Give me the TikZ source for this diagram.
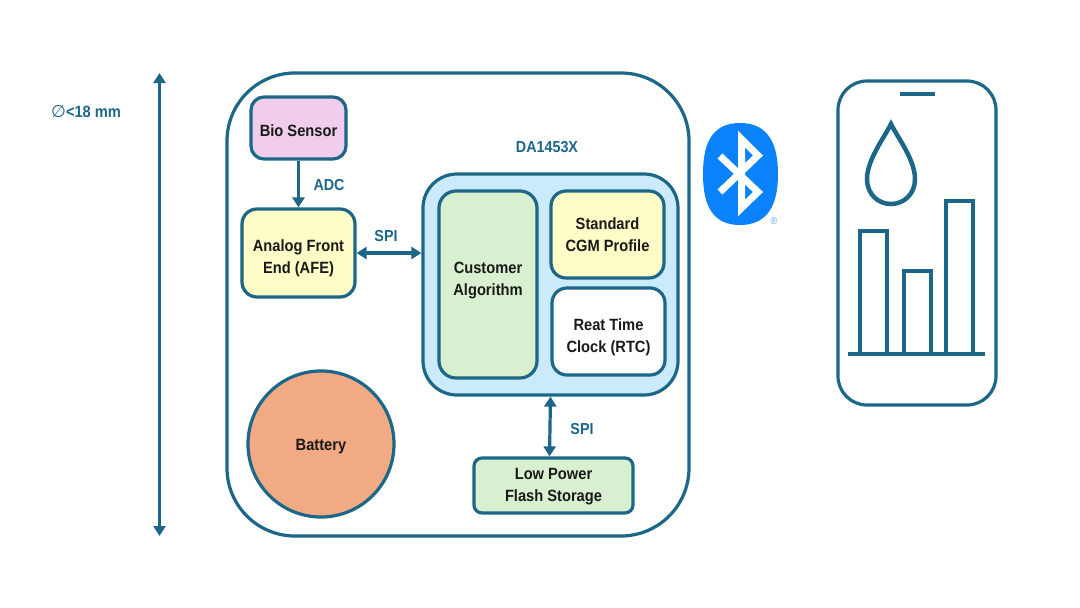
\documentclass[tikz,border=0pt]{standalone}
\usepackage{fontspec}
\setmainfont[FakeStretch=0.9]{Liberation Sans}
\newfontfamily\symfont{DejaVu Sans}
\usetikzlibrary{arrows.meta}
\definecolor{teal1}{HTML}{1C6688}
\definecolor{btblue}{HTML}{0A82FB}
\definecolor{BioPink}{HTML}{F1CDEC}
\definecolor{AfeYellow}{HTML}{FEFDC8}
\definecolor{DaBlue}{HTML}{CBEBFA}
\definecolor{AlgGreen}{HTML}{D9F0D0}
\definecolor{BatOrange}{HTML}{F2AA84}
\tikzset{
  x=1pt,y=-1pt,
  boxed/.style={draw=teal1,line width=3.2pt,rounded corners=#1,inner sep=0pt,align=center,font=\fontsize{16.3}{22}\selectfont\bfseries,text=black!90},
  boxed/.default=13pt,
  lbl/.style={text=teal1,font=\fontsize{15.9}{18}\selectfont\bfseries,inner sep=0pt},
  conn/.style={draw=teal1,line width=3.2pt,-{Triangle[length=10pt,width=12pt]}},
  conn2/.style={draw=teal1,line width=3.2pt,{Triangle[length=10pt,width=12pt]}-{Triangle[length=10pt,width=12pt]}},
  icon/.style={draw=teal1,line width=3.2pt},
}
\newcommand{\bx}[8]{\node[boxed=#6,fill=#7,minimum width=#3-#1,minimum height=#4-#2,anchor=center] (#5) at ({(#1+#3)/2},{(#2+#4)/2}) {#8};}
\newcommand{\tx}[2]{\smash{\raisebox{\dimexpr -#1pt - 5.5pt\relax}{\begin{tabular}{@{}c@{}}#2\end{tabular}}}}
\begin{document}
\begin{tikzpicture}
\useasboundingbox (0,0) rectangle (1080,608);
\fill[white] (0,0) rectangle (1080,608);
% outer body
\bx{227}{73}{689}{536}{body}{68pt}{white}{}
\coordinate (dimtop) at (159.5,73);
\coordinate (dimbot) at (159.5,536);
\draw[conn2] (dimtop) -- (dimbot);
\node[lbl,anchor=west] (dim) at (51,112) {{\symfont\fontsize{17}{18}\selectfont\mdseries ∅}{\fontsize{16.3}{18}\selectfont <18 mm}};
% blocks
\bx{251}{97}{346}{159}{bio}{13pt}{BioPink}{\tx{3}{Bio Sensor}}
\bx{242}{209}{355}{297}{afe}{15pt}{AfeYellow}{\tx{4}{Analog Front\\End (AFE)}}
\bx{423}{174}{678}{395}{da}{34pt}{DaBlue}{}
\bx{439}{191}{537}{378}{alg}{17pt}{AlgGreen}{\tx{-5.5}{Customer\\Algorithm}}
\bx{551}{191}{664}{278}{cgm}{15pt}{AfeYellow}{\tx{0.5}{Standard\\CGM Profile}}
\bx{552}{288}{665}{375}{rtc}{15pt}{white}{\tx{4.5}{Reat Time\\Clock (RTC)}}
\bx{474}{458}{633}{513}{flash}{8pt}{AlgGreen}{\tx{-0.5}{Low Power\\Flash Storage}}
\node[boxed,circle,fill=BatOrange,minimum size=146pt] (bat) at (321,444) {\tx{1}{Battery}};
% connectors
\draw[conn] (bio.south) -- (afe.north);
\draw[conn2] (afe.east) -- (afe.east -| da.west);
\draw[conn2] ([xshift=0pt]da.south) -- ([xshift=-4pt]flash.north);
% labels
\node[lbl] (title) at (547,147) {DA1453X};
\node[lbl] (adc) at (329,185) {ADC};
\node[lbl] (spi1) at (386,236) {SPI};
\node[lbl] (spi2) at (582,429) {SPI};
% bluetooth
\fill[btblue] (740,123) .. controls (769,123) and (778,145) .. (778,174) .. controls (778,203) and (769,225) .. (740,225) .. controls (711,225) and (703,203) .. (703,174) .. controls (703,145) and (711,123) .. (740,123) -- cycle;
\draw[white,line width=7pt,miter limit=10] (720,156) -- (758,192) -- (741.5,208) -- (741.5,139) -- (758,155.5) -- (720,192);
\node[text=btblue!70,font=\fontsize{10}{10}\selectfont,inner sep=0pt] (reg) at (774,221) {®};
% phone
\bx{838}{81}{996}{405}{phone}{29pt}{white}{}
\draw[icon] (900,94) -- (935,94);
\draw[icon,line width=4.5pt,miter limit=8] (891,124) .. controls (898,138) and (915,160) .. (915,179) .. controls (915,194) and (904,204) .. (891,204) .. controls (878,204) and (867,194) .. (867,179) .. controls (867,160) and (884,138) .. (891,124) -- cycle;
\draw[icon] (860,354) -- (860,231) -- (887,231) -- (887,354);
\draw[icon] (904,354) -- (904,271) -- (931,271) -- (931,354);
\draw[icon] (946,354) -- (946,201) -- (973,201) -- (973,354);
\draw[icon] (848,354) -- (985,354);
\end{tikzpicture}
\end{document}
